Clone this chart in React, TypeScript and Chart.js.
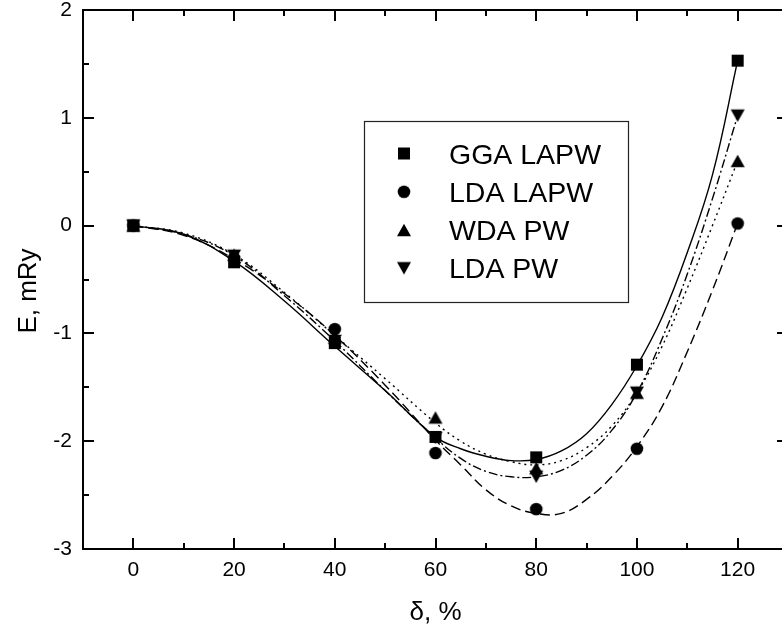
import React, { useEffect, useRef } from "react";
import { Chart, registerables } from "chart.js";

Chart.register(...registerables);

// ---------- data ----------
const seriesNames = ["GGA LAPW", "LDA LAPW", "WDA PW", "LDA PW"];
const delta = [0, 20, 40, 60, 80, 100, 120];
const ggaLapw = [0, -0.34, -1.09, -1.96, -2.15, -1.29, 1.53];
const ldaLapw = [0, -0.3, -0.96, -2.11, -2.63, -2.07, 0.02];
const wdaPw = [0, -0.27, -1.04, -1.78, -2.25, -1.55, 0.6];
const ldaPw = [0, -0.28, -1.07, -1.97, -2.33, -1.55, 1.02];

// fitted curves
const fitX = [0, 10, 20, 30, 40, 50, 60, 65, 70, 75, 80, 85, 90, 95, 100, 105, 110, 115, 120];
const ggaFit = [0, -0.08, -0.33, -0.7, -1.12, -1.53, -1.96, -2.07, -2.14, -2.18, -2.17, -2.09, -1.93, -1.66, -1.3, -0.85, -0.25, 0.47, 1.53];
const ldaLapwFit = [0, -0.09, -0.31, -0.63, -1.02, -1.48, -1.99, -2.22, -2.45, -2.6, -2.67, -2.67, -2.54, -2.33, -2.05, -1.68, -1.17, -0.6, 0.02];
const wdaFit = [0, -0.07, -0.27, -0.62, -1.02, -1.42, -1.83, -2.0, -2.12, -2.19, -2.22, -2.18, -2.06, -1.86, -1.55, -1.12, -0.58, 0.0, 0.6];
const ldaPwFit = [0, -0.08, -0.28, -0.65, -1.07, -1.53, -1.97, -2.16, -2.28, -2.33, -2.33, -2.27, -2.13, -1.9, -1.55, -1.05, -0.45, 0.25, 1.02];

const xMajorTicks = [0, 20, 40, 60, 80, 100, 120];
const xMinorTicks = [10, 30, 50, 70, 90, 110];
const yMajorTicks = [-3, -2, -1, 0, 1, 2];
const yMinorTicks = [-2.5, -1.5, -0.5, 0.5, 1.5];
const xTitle = "δ, %";
const yTitle = "E, mRy";

const FONT = "'Liberation Sans', Arial, Helvetica, sans-serif";

type Kind = "square" | "circle" | "up" | "down";
const markerKinds: Kind[] = ["square", "circle", "up", "down"];
const dashes: number[][] = [[], [10, 5], [2, 4], [9, 3, 2, 3]];

function makeMarker(kind: Kind): HTMLCanvasElement {
  const c = document.createElement("canvas");
  c.width = 16;
  c.height = 16;
  const g = c.getContext("2d")!;
  g.fillStyle = "#000";
  g.beginPath();
  if (kind === "square") {
    g.rect(2, 2, 12, 12);
  } else if (kind === "circle") {
    g.arc(8, 8, 6.3, 0, Math.PI * 2);
  } else if (kind === "up") {
    g.moveTo(1, 14.3);
    g.lineTo(15, 14.3);
    g.lineTo(8, 1.7);
    g.closePath();
  } else {
    g.moveTo(1, 1.7);
    g.lineTo(15, 1.7);
    g.lineTo(8, 14.3);
    g.closePath();
  }
  g.fill();
  return c;
}

export default function App() {
  const ref = useRef<HTMLCanvasElement | null>(null);

  useEffect(() => {
    if (!ref.current) return;
    const markers = markerKinds.map(makeMarker);
    const pointSeries = [ggaLapw, ldaLapw, wdaPw, ldaPw];
    const fitSeries = [ggaFit, ldaLapwFit, wdaFit, ldaPwFit];

    const markerSets = pointSeries.map((vals, i) => ({
      label: seriesNames[i],
      data: delta.map((x, j) => ({ x, y: vals[j] })),
      showLine: false,
      pointStyle: markers[i] as any,
      pointRadius: 8,
      pointHoverRadius: 8,
      backgroundColor: "#000",
      borderColor: "#000",
    }));
    const fitSets = fitSeries.map((vals, i) => ({
      label: seriesNames[i] + " fit",
      data: fitX.map((x, j) => ({ x, y: vals[j] })),
      showLine: true,
      pointRadius: 0,
      pointHoverRadius: 0,
      borderColor: "#000",
      borderWidth: 1.4,
      borderDash: dashes[i],
      tension: 0.4,
      fill: false,
    }));

    const framePlugin = {
      id: "frameTicksLegend",
      afterDraw(chart: any) {
        const { ctx, chartArea: a, scales } = chart;
        const xs = scales.x;
        const ys = scales.y;
        ctx.save();
        ctx.strokeStyle = "#000";
        ctx.lineWidth = 2;
        ctx.lineCap = "butt";
        ctx.strokeRect(a.left, a.top, a.right - a.left, a.bottom - a.top);
        const seg = (x1: number, y1: number, x2: number, y2: number) => {
          ctx.beginPath();
          ctx.moveTo(x1, y1);
          ctx.lineTo(x2, y2);
          ctx.stroke();
        };
        const MAJ = 11;
        const MIN = 6;
        xMajorTicks.forEach((v) => {
          const p = Math.round(xs.getPixelForValue(v));
          seg(p, a.bottom, p, a.bottom - MAJ);
          seg(p, a.top, p, a.top + MAJ);
        });
        xMinorTicks.forEach((v) => {
          const p = Math.round(xs.getPixelForValue(v));
          seg(p, a.bottom, p, a.bottom - MIN);
          seg(p, a.top, p, a.top + MIN);
        });
        yMajorTicks.forEach((v) => {
          const p = Math.round(ys.getPixelForValue(v));
          seg(a.left, p, a.left + MAJ, p);
          seg(a.right, p, a.right - MAJ, p);
        });
        yMinorTicks.forEach((v) => {
          const p = Math.round(ys.getPixelForValue(v));
          seg(a.left, p, a.left + MIN, p);
          seg(a.right, p, a.right - MIN, p);
        });

        // legend box
        ctx.lineWidth = 1.2;
        ctx.strokeStyle = "#222";
        ctx.strokeRect(364.5, 121.5, 264, 181);
        ctx.fillStyle = "#000";
        ctx.font = `28.5px ${FONT}`;
        ctx.textAlign = "left";
        ctx.textBaseline = "alphabetic";
        const rowBase = [163.5, 201.8, 240, 278.3];
        seriesNames.forEach((name, i) => {
          const cy = rowBase[i] - 10;
          const m = markers[i];
          ctx.drawImage(m, 404 - m.width / 2, cy - m.height / 2);
          ctx.fillText(name, 449, rowBase[i]);
        });

        // axis titles
        ctx.font = `26px ${FONT}`;
        ctx.textAlign = "center";
        ctx.fillText(xTitle, (a.left + a.right) / 2, 620);
        ctx.save();
        ctx.translate(36, 291);
        ctx.rotate(-Math.PI / 2);
        ctx.fillText(yTitle, 0, 0);
        ctx.restore();
        ctx.restore();
      },
    };

    const chart = new Chart(ref.current, {
      type: "scatter",
      data: { datasets: [...markerSets, ...fitSets] as any },
      options: {
        animation: false,
        responsive: false,
        maintainAspectRatio: false,
        layout: { padding: { top: 10, right: 12, left: 0, bottom: 0 } },
        plugins: {
          legend: { display: false },
          tooltip: { enabled: false },
          title: { display: false },
        },
        scales: {
          x: {
            type: "linear",
            min: -10,
            max: 130,
            border: { display: false },
            grid: { display: false, drawTicks: false },
            ticks: {
              padding: 9,
              color: "#000",
              font: { family: FONT, size: 21 },
              maxRotation: 0,
              callback: (v: any) => String(v),
            },
            afterBuildTicks: (scale: any) => {
              scale.ticks = xMajorTicks.map((value) => ({ value }));
            },
            afterFit: (scale: any) => {
              scale.height = 77;
              scale.paddingLeft = 0;
              scale.paddingRight = 0;
            },
          },
          y: {
            type: "linear",
            min: -3,
            max: 2,
            border: { display: false },
            grid: { display: false, drawTicks: false },
            ticks: {
              padding: 11,
              color: "#000",
              font: { family: FONT, size: 21 },
              callback: (v: any) => String(v),
            },
            afterBuildTicks: (scale: any) => {
              scale.ticks = yMajorTicks.map((value) => ({ value }));
            },
            afterFit: (scale: any) => {
              scale.width = 83;
              scale.paddingTop = 0;
              scale.paddingBottom = 0;
            },
          },
        },
      } as any,
      plugins: [framePlugin],
    });
    return () => chart.destroy();
  }, []);

  return (
    <div
      style={{
        position: "absolute",
        left: 0,
        top: 0,
        width: 782,
        height: 626,
        overflow: "hidden",
        background: "#fff",
      }}
    >
      <canvas ref={ref} width={800} height={626} style={{ width: 800, height: 626, display: "block" }} />
    </div>
  );
}
